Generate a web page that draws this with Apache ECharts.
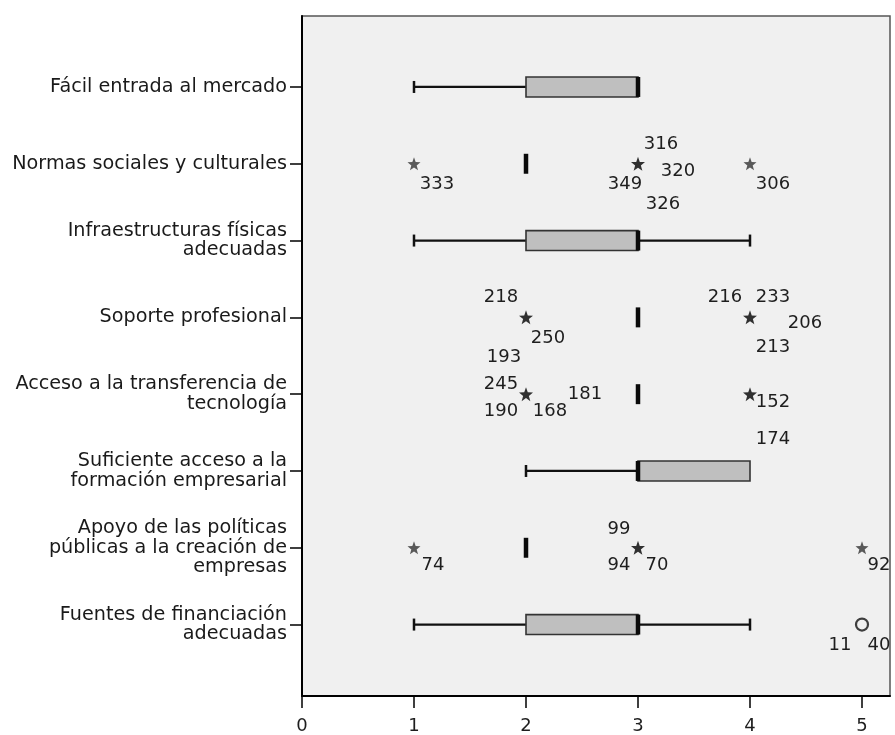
<!DOCTYPE html>
<html>
<head>
<meta charset="utf-8">
<script src="https://cdn.jsdelivr.net/npm/echarts@6/dist/echarts.min.js"></script>
<style>
  html, body { margin: 0; padding: 0; background: #ffffff; }
  #chart { width: 895px; height: 735px; }
</style>
</head>
<body>
<div id="chart"></div>
<script>
// ---- data ----
const categories = [
  'Fácil entrada al mercado',
  'Normas sociales y culturales',
  'Infraestructuras físicas\nadecuadas',
  'Soporte profesional',
  'Acceso a la transferencia de\ntecnología',
  'Suficiente acceso a la\nformación empresarial',
  'Apoyo de las políticas\npúblicas a la creación de\nempresas',
  'Fuentes de financiación\nadecuadas'
];
const whiskerLow  = [1, 2, 1, 3, 3, 2, 2, 1];
const q1          = [2, 2, 2, 3, 3, 3, 2, 2];
const median      = [3, 2, 3, 3, 3, 3, 2, 3];
const q3          = [3, 2, 3, 3, 3, 4, 2, 3];
const whiskerHigh = [3, 2, 4, 3, 3, 4, 2, 4];

// extreme values (stars): [category index (0-based), value, case numbers]
const extremes = [
  [1, 1, ['333']],
  [1, 3, ['316', '320', '349', '326']],
  [1, 4, ['306']],
  [3, 2, ['218', '250', '193']],
  [3, 4, ['216', '233', '206', '213']],
  [4, 2, ['245', '181', '190', '168']],
  [4, 4, ['152', '174']],
  [6, 1, ['74']],
  [6, 3, ['99', '94', '70']],
  [6, 5, ['92']]
];
// outliers (circles)
const outliers = [
  [7, 5, ['11', '40']]
];
const xTickValues = [0, 1, 2, 3, 4, 5];

// ---- layout of case labels around their point (pixels) ----
const caseLabelOffset = {
  '333': [23, 21], '316': [23, -19], '320': [40, 8], '349': [-13, 21], '326': [25, 41], '306': [23, 21],
  '218': [-25, -20], '250': [22, 21], '193': [-22, 40],
  '216': [-25, -20], '233': [23, -20], '206': [55, 6], '213': [23, 30],
  '245': [-25, -10], '181': [59, 0], '190': [-25, 17], '168': [24, 17],
  '152': [23, 8], '174': [23, 45],
  '74': [19, 18], '99': [-19, -18], '94': [-19, 18], '70': [19, 18], '92': [17, 18],
  '11': [-22, 21], '40': [17, 21]
};

const FONT = '"DejaVu Sans", "Liberation Sans", Arial, sans-serif';
const STAR = 'path://M0,-10 L2.4,-3.3 L9.5,-3.1 L3.9,1.3 L5.9,8.1 L0,4.1 L-5.9,8.1 L-3.9,1.3 L-9.5,-3.1 L-2.4,-3.3 Z';

const boxData = categories.map((c, i) => [i + 1, whiskerLow[i], q1[i], median[i], q3[i], whiskerHigh[i]]);

const labelItems = [];
extremes.concat(outliers).forEach(o => {
  o[2].forEach(id => labelItems.push({ value: [o[1], o[0] + 1], id: id }));
});

function renderBox(params, api) {
  const row = api.value(0);
  const lo = api.value(1), a = api.value(2), m = api.value(3), b = api.value(4), hi = api.value(5);
  const pLo = api.coord([lo, row]);
  const pA = api.coord([a, row]);
  const pM = api.coord([m, row]);
  const pB = api.coord([b, row]);
  const pHi = api.coord([hi, row]);
  const half = api.size([0, 1])[1] * 0.13;
  const y = pM[1];
  const capHalf = 6;
  const line = { stroke: '#111', lineWidth: 2.2 };
  const children = [];
  if (lo < a) {
    children.push({ type: 'line', shape: { x1: pLo[0], y1: y, x2: pA[0], y2: y }, style: line });
    children.push({ type: 'line', shape: { x1: pLo[0], y1: y - capHalf, x2: pLo[0], y2: y + capHalf }, style: { stroke: '#111', lineWidth: 2.5 } });
  }
  if (hi > b) {
    children.push({ type: 'line', shape: { x1: pB[0], y1: y, x2: pHi[0], y2: y }, style: line });
    children.push({ type: 'line', shape: { x1: pHi[0], y1: y - capHalf, x2: pHi[0], y2: y + capHalf }, style: { stroke: '#111', lineWidth: 2.5 } });
  }
  if (b > a) {
    children.push({
      type: 'rect',
      shape: { x: pA[0], y: y - half, width: pB[0] - pA[0], height: 2 * half },
      style: { fill: '#bfbfbf', stroke: '#333', lineWidth: 1.6 }
    });
  }
  children.push({
    type: 'line',
    shape: { x1: pM[0], y1: y - half, x2: pM[0], y2: y + half },
    style: { stroke: '#0a0a0a', lineWidth: 4.5 }
  });
  return { type: 'group', children: children };
}

function renderLabel(params, api) {
  const item = labelItems[params.dataIndex];
  const p = api.coord([api.value(0), api.value(1)]);
  const off = caseLabelOffset[item.id] || [18, 18];
  return {
    type: 'text',
    x: p[0] + off[0],
    y: p[1] + off[1],
    style: {
      text: item.id,
      font: '18px ' + FONT,
      fill: '#1e1e1e',
      align: 'center',
      verticalAlign: 'middle'
    }
  };
}

const chart = echarts.init(document.getElementById('chart'), null, { renderer: 'canvas' });
chart.setOption({
  animation: false,
  backgroundColor: '#ffffff',
  grid: {
    left: 302, right: 5, top: 16, bottom: 36,
    show: true, backgroundColor: '#f0f0f0', borderColor: '#555', borderWidth: 1.5
  },
  xAxis: {
    type: 'value',
    min: 0, max: 5.25,
    position: 'bottom',
    axisLine: { show: true, onZero: false, lineStyle: { color: '#000', width: 2 } },
    axisTick: { show: true, customValues: xTickValues, length: 12, lineStyle: { color: '#000', width: 1.5 } },
    axisLabel: { customValues: xTickValues, margin: 21, fontSize: 18, fontFamily: FONT, color: '#1e1e1e' },
    splitLine: { show: false }
  },
  yAxis: {
    type: 'value',
    inverse: true,
    min: 0.076, max: 8.93,
    axisLine: { show: true, onZero: false, lineStyle: { color: '#000', width: 2 } },
    axisTick: { show: true, customValues: categories.map((c, i) => i + 1), length: 12, lineStyle: { color: '#000', width: 1.5 } },
    axisLabel: {
      customValues: categories.map((c, i) => i + 1),
      formatter: v => categories[Math.round(v) - 1] || '',
      margin: 15, fontSize: 19.2, lineHeight: 19.5, fontFamily: FONT, color: '#1a1a1a', align: 'right'
    },
    splitLine: { show: false }
  },
  series: [
    {
      type: 'custom',
      name: 'box',
      renderItem: renderBox,
      encode: { x: [1, 2, 3, 4, 5], y: 0 },
      data: boxData,
      z: 3
    },
    {
      type: 'scatter',
      name: 'extremes',
      symbol: STAR,
      data: extremes.map(e => ({
        value: [e[1], e[0] + 1],
        symbolSize: e[2].length > 1 ? 14 : 13,
        itemStyle: { color: e[2].length > 1 ? '#000' : '#333' }
      })),
      z: 4
    },
    {
      type: 'scatter',
      name: 'outliers',
      symbol: 'circle',
      symbolSize: 12,
      itemStyle: { color: '#f0f0f0', borderColor: '#111', borderWidth: 2.2 },
      data: outliers.map(o => [o[1], o[0] + 1]),
      z: 4
    },
    {
      type: 'custom',
      name: 'caseLabels',
      renderItem: renderLabel,
      encode: { x: 0, y: 1 },
      data: labelItems.map(d => d.value),
      z: 5
    }
  ]
});
</script>
</body>
</html>
